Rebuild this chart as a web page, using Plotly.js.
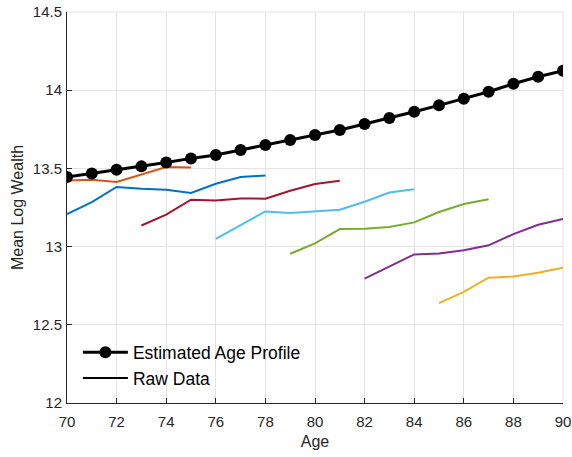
<!DOCTYPE html>
<html>
<head>
<meta charset="utf-8">
<script src="https://cdn.plot.ly/plotly-3.0.1.min.js"></script>
<style>html,body{margin:0;padding:0;background:#fff;}#chart{width:572px;height:457px;}</style>
</head>
<body>
<div id="chart"></div>
<script>
// Estimated age profile
const profileAges = [70,71,72,73,74,75,76,77,78,79,80,81,82,83,84,85,86,87,88,89,90];
const profileValues = [13.445,13.468,13.492,13.513,13.538,13.564,13.586,13.618,13.650,13.681,13.713,13.745,13.784,13.822,13.862,13.903,13.946,13.990,14.041,14.086,14.125];

// Raw data cohorts
const cohortBlueAges = [70,71,72,73,74,75,76,77,78];
const cohortBlueValues = [13.208,13.285,13.381,13.370,13.364,13.343,13.402,13.445,13.455];
const cohortOrangeAges = [70,71,72,73,74,75];
const cohortOrangeValues = [13.423,13.428,13.413,13.461,13.509,13.506];
const cohortRedAges = [73,74,75,76,77,78,79,80,81];
const cohortRedValues = [13.135,13.204,13.300,13.295,13.308,13.306,13.357,13.400,13.421];
const cohortCyanAges = [76,77,78,79,80,81,82,83,84];
const cohortCyanValues = [13.050,13.135,13.225,13.215,13.225,13.236,13.287,13.346,13.366];
const cohortGreenAges = [79,80,81,82,83,84,85,86,87];
const cohortGreenValues = [12.954,13.020,13.112,13.114,13.125,13.155,13.221,13.272,13.303];
const cohortPurpleAges = [82,83,84,85,86,87,88,89,90];
const cohortPurpleValues = [12.795,12.873,12.950,12.956,12.976,13.008,13.080,13.140,13.176];
const cohortYellowAges = [85,86,87,88,89,90];
const cohortYellowValues = [12.639,12.710,12.801,12.809,12.833,12.865];

const xTicks = [70,72,74,76,78,80,82,84,86,88,90];
const xTickLabels = ['70','72','74','76','78','80','82','84','86','88','90'];
const yTicks = [12,12.5,13,13.5,14,14.5];
const yTickLabels = ['12','12.5','13','13.5','14','14.5'];

const cohorts = [
  [cohortBlueAges, cohortBlueValues, '#0072BD'],
  [cohortOrangeAges, cohortOrangeValues, '#D95319'],
  [cohortRedAges, cohortRedValues, '#A2142F'],
  [cohortCyanAges, cohortCyanValues, '#4DBEEE'],
  [cohortGreenAges, cohortGreenValues, '#77AC30'],
  [cohortPurpleAges, cohortPurpleValues, '#7E2F8E'],
  [cohortYellowAges, cohortYellowValues, '#EDB120']
];

const traces = cohorts.map(c => ({
  x: c[0], y: c[1], type: 'scatter', mode: 'lines',
  line: {color: c[2], width: 2}, showlegend: false, hoverinfo: 'skip'
}));

traces.push({
  x: profileAges, y: profileValues, type: 'scatter', mode: 'lines+markers',
  name: 'Estimated Age Profile',
  line: {color: '#000000', width: 3},
  marker: {color: '#000000', size: 12}
});
traces.push({
  x: [null], y: [null], type: 'scatter', mode: 'lines',
  name: 'Raw Data', line: {color: '#000000', width: 2}
});

const fam = 'Liberation Sans, Arial, sans-serif';

const layout = {
  width: 572, height: 457,
  margin: {l: 67, r: 9, t: 12, b: 54},
  paper_bgcolor: '#ffffff', plot_bgcolor: '#ffffff',
  font: {family: fam, color: '#262626', size: 15},
  showlegend: true,
  legend: {
    x: 0.022, y: 0.017, xanchor: 'left', yanchor: 'bottom',
    bgcolor: 'rgba(255,255,255,0)', borderwidth: 0,
    font: {family: fam, size: 17.5, color: '#000'},
    traceorder: 'normal', itemwidth: 45, tracegroupgap: 0
  },
  xaxis: {
    range: [70, 90], tickvals: xTicks, ticktext: xTickLabels,
    showgrid: true, gridcolor: '#e3e3e3', gridwidth: 1,
    showline: true, linecolor: '#262626', linewidth: 1,
    ticks: 'inside', ticklen: 5, tickcolor: '#262626',
    ticklabelstandoff: 5,
    zeroline: false, mirror: false,
    tickfont: {size: 15, color: '#262626'},
    title: {text: 'Age', font: {size: 16, color: '#262626'}, standoff: 6}
  },
  yaxis: {
    range: [12, 14.5], tickvals: yTicks, ticktext: yTickLabels,
    showgrid: true, gridcolor: '#e3e3e3', gridwidth: 1,
    showline: true, linecolor: '#262626', linewidth: 1,
    ticks: 'inside', ticklen: 5, tickcolor: '#262626',
    ticklabelstandoff: 1,
    zeroline: false,
    tickfont: {size: 15, color: '#262626'},
    title: {text: 'Mean Log Wealth', font: {size: 16, color: '#262626'}, standoff: 5}
  },
  shapes: [
    {type: 'line', xref: 'paper', yref: 'paper', x0: 0, x1: 1, y0: 1, y1: 1, line: {color: '#e3e3e3', width: 1}, layer: 'below'},
    {type: 'line', xref: 'paper', yref: 'paper', x0: 1, x1: 1, y0: 0, y1: 1, line: {color: '#e3e3e3', width: 1}, layer: 'below'}
  ]
};

Plotly.newPlot('chart', traces, layout, {displayModeBar: false, staticPlot: true});
</script>
</body>
</html>
